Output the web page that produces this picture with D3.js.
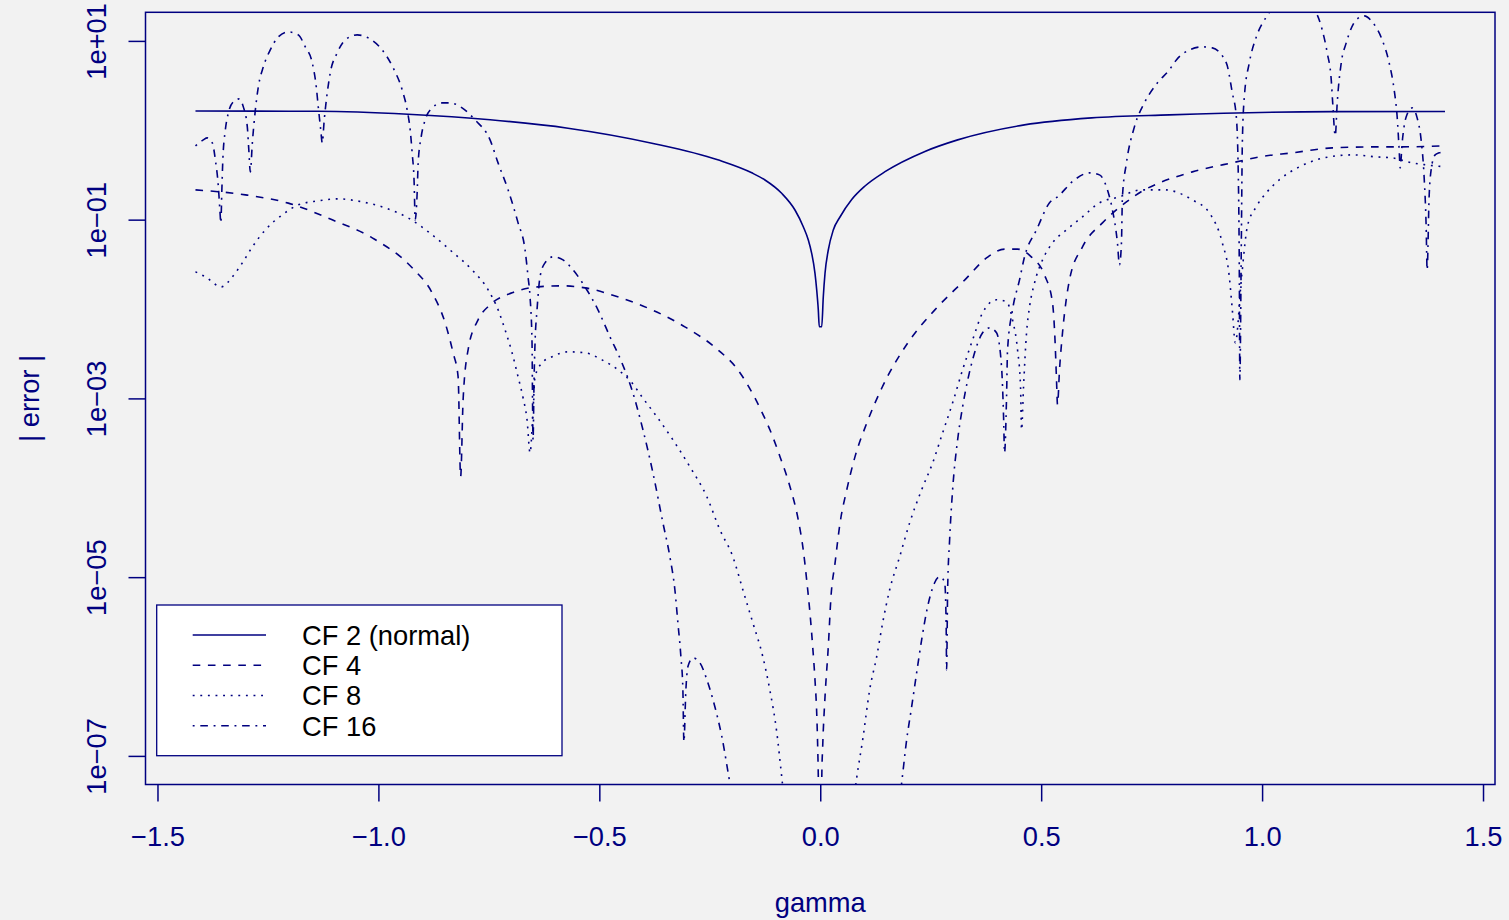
<!DOCTYPE html>
<html><head><meta charset="utf-8">
<script src="https://cdn.jsdelivr.net/npm/d3@7"></script>
<style>body{margin:0;background:#f2f2f2;} svg{display:block}</style>
</head><body>
<svg id="chart" width="1509" height="920"></svg>
<script>
// ---------- data ----------
const xTicks = [-1.5, -1.0, -0.5, 0.0, 0.5, 1.0, 1.5];
const xTickLabels = ["\u22121.5", "\u22121.0", "\u22120.5", "0.0", "0.5", "1.0", "1.5"];
const yTicks = [1e1, 1e-1, 1e-3, 1e-5, 1e-7];
const yTickLabels = ["1e+01", "1e\u221201", "1e\u221203", "1e\u221205", "1e\u221207"];
const legendLabels = ["CF 2 (normal)", "CF 4", "CF 8", "CF 16"];
const xLabel = "gamma";
const yLabel = "| error |";

const gamma2 = [-1.414, -1.136, -0.933, -0.747, -0.571, -0.381, -0.232, -0.155, -0.1251, -0.0873, -0.0572, -0.0384, -0.027, -0.0194, -0.0119, -0.008, -0.0044, -0.0022, 0.0033, 0.0069, 0.0108, 0.0182, 0.0295, 0.0447, 0.0712, 0.1013, 0.1466, 0.237, 0.311, 0.462, 0.614, 0.790, 1.159, 1.414];
const err2 = [1.64, 1.63, 1.51, 1.31, 1.055, 0.717, 0.467, 0.334, 0.2778, 0.1971, 0.1282, 0.0834, 0.0592, 0.04202, 0.0251, 0.01632, 0.00975, 0.00634, 0.00634, 0.01373, 0.0251, 0.04575, 0.0766, 0.1071, 0.168, 0.2379, 0.344, 0.58, 0.781, 1.149, 1.376, 1.487, 1.618, 1.62];

const gamma4 = [-1.414, -1.301, -1.204, -1.1045, -1.014, -0.9236, -0.8784, -0.849, -0.831, -0.8196,
  -0.8139, -0.8083, -0.797, -0.7744, -0.7473, -0.6975, -0.6387, -0.5845, -0.5325, -0.4578,
  -0.381, -0.3064, -0.2317, -0.1865, -0.1481, -0.1325, -0.1137, -0.0911, -0.0685, -0.0497,
  -0.0384, -0.0307, -0.0232, -0.0171, -0.0119, -0.008, -0.0058, -0.0044, 0, 0.0035,
  0.0055, 0.0108, 0.0182, 0.0243, 0.0334, 0.0447, 0.0599, 0.0787, 0.1051, 0.1391,
  0.1978, 0.2589, 0.3267, 0.3787, 0.4171, 0.4465, 0.4782, 0.5076, 0.5256, 0.5313,
  0.5347, 0.537, 0.5415, 0.5483, 0.5641, 0.5935, 0.6387, 0.693, 0.7337, 0.7676,
  0.8422, 0.9417, 0.9937, 1.0683, 1.1587, 1.2582, 1.31, 1.414];
const err4 = [0.2154, 0.1894, 0.153, 0.0995, 0.0626, 0.0289, 0.01518, 0.00701, 0.00324, 0.001744,
  1.33e-4, 9.65e-4, 0.0035, 0.00757, 0.01114, 0.01518, 0.0177, 0.01818, 0.01726, 0.01369,
  0.0098, 0.00632, 0.0035, 0.00209, 0.001016, 7.1e-4, 4.43e-4, 2.23e-4, 1.028e-4, 4.36e-5,
  2.01e-5, 9.29e-6, 3.94e-6, 1.667e-6, 7.07e-7, 3.0e-7, 1.267e-7, 5.85e-8, 1e-10, 5.85e-8,
  1.267e-7, 4.6e-7, 1.667e-6, 6.04e-6, 1.429e-5, 4.0e-5, 9.44e-5, 2.23e-4, 5.26e-4, 0.0013,
  0.004155, 0.00972, 0.02105, 0.0381, 0.0468, 0.0468, 0.0381, 0.024, 0.01178, 0.00452,
  0.00162, 8.52e-4, 0.00209, 0.00542, 0.0212, 0.0496, 0.0921, 0.158, 0.2154, 0.258,
  0.3425, 0.443, 0.504, 0.559, 0.635, 0.652, 0.652, 0.669];

const gamma8 = [-1.414, -1.3916, -1.3554, -1.3305, -1.3079, -1.2853, -1.2559, -1.2175, -1.1813, -1.136,
  -1.0908, -1.0366, -0.9846, -0.9326, -0.8784, -0.833, -0.788, -0.7517, -0.7291, -0.7133,
  -0.6975, -0.6839, -0.6726, -0.6636, -0.6568, -0.65, -0.6455, -0.6297, -0.6071, -0.5709,
  -0.5325, -0.494, -0.4578, -0.4262, -0.4036, -0.3696, -0.3335, -0.2951, -0.2566, -0.2272,
  -0.1978, -0.1752, -0.1526, -0.13, -0.1142, -0.0983, -0.087, 0, 0.0825, 0.0961,
  0.1119, 0.1277, 0.1413, 0.1571, 0.1797, 0.2024, 0.2295, 0.2544, 0.277, 0.2996,
  0.3222, 0.3448, 0.3674, 0.399, 0.4216, 0.4352, 0.4465, 0.4533, 0.4556, 0.4601,
  0.4669, 0.4737, 0.485, 0.5031, 0.5257, 0.5573, 0.5935, 0.6319, 0.6771, 0.7268,
  0.7789, 0.8422, 0.8806, 0.91, 0.9258, 0.9326, 0.9394, 0.9536, 0.9666, 0.9869,
  1.0095, 1.0389, 1.0841, 1.1225, 1.1678, 1.2039, 1.2582, 1.2944, 1.3396, 1.3713, 1.414];
const err8 = [0.02607, 0.02292, 0.0177, 0.02292, 0.03287, 0.0496, 0.0769, 0.1132, 0.1464, 0.1623,
  0.1709, 0.158, 0.1355, 0.1047, 0.0676, 0.0436, 0.02745, 0.0164, 0.0098, 0.00585,
  0.00324, 0.001744, 0.001016, 5.76e-4, 2.46e-4, 7.42e-4, 0.001744, 0.0025, 0.00292, 0.00332,
  0.00324, 0.0027, 0.00209, 0.001494, 0.001042, 6.22e-4, 3.44e-4, 1.72e-4, 7.93e-5, 3.39e-5,
  1.69e-5, 7.23e-6, 3.09e-6, 1.29e-6, 5.5e-7, 1.82e-7, 5.7e-8, 1e-12, 5.7e-8, 1.52e-7,
  5.5e-7, 1.29e-6, 3.09e-6, 7.23e-6, 1.69e-5, 4.06e-5, 9.5e-5, 1.9e-4, 4.12e-4, 8.93e-4,
  0.00209, 0.00452, 0.00907, 0.01268, 0.01204, 0.00757, 0.0035, 0.001348, 4.46e-4, 0.001348,
  0.00542, 0.01058, 0.01964, 0.0355, 0.055, 0.0769, 0.1075, 0.1542, 0.1799, 0.2154,
  0.2154, 0.1665, 0.1192, 0.055, 0.02292, 0.0098, 0.00419, 0.02292, 0.0835, 0.1398,
  0.1995, 0.2788, 0.3897, 0.4667, 0.5172, 0.5307, 0.504, 0.4912, 0.4318, 0.41, 0.3897];

const gamma16 = [-1.414, -1.3962, -1.3872, -1.3759, -1.369, -1.3622, -1.3588, -1.3566, -1.3543, -1.3521,
  -1.3464, -1.3396, -1.3283, -1.3147, -1.3057, -1.2967, -1.2933, -1.2899, -1.2853, -1.2785,
  -1.2718, -1.2605, -1.2447, -1.2266, -1.2039, -1.1813, -1.1655, -1.1497, -1.1406, -1.1361,
  -1.1305, -1.1271, -1.1226, -1.1158, -1.109, -1.0932, -1.0751, -1.048, -1.0231, -0.9915,
  -0.9666, -0.9462, -0.9349, -0.9281, -0.9236, -0.9191, -0.9168, -0.9123, -0.91, -0.9032,
  -0.8942, -0.8784, -0.8558, -0.8377, -0.8106, -0.7812, -0.7473, -0.7292, -0.7065, -0.6839,
  -0.6681, -0.6613, -0.6568, -0.6523, -0.6512, -0.65, -0.6477, -0.6455, -0.641, -0.6342,
  -0.6229, -0.6048, -0.5822, -0.5596, -0.5325, -0.5031, -0.4759, -0.4488, -0.4262, -0.4013,
  -0.3787, -0.3561, -0.3403, -0.329, -0.3222, -0.3154, -0.3109, -0.3086, -0.3041, -0.2996,
  -0.2883, -0.2724, -0.2566, -0.2385, -0.2227, -0.2046, 0, 0.1843, 0.1956, 0.2069,
  0.2182, 0.2295, 0.243, 0.2589, 0.2702, 0.2815, 0.2849, 0.286, 0.2883, 0.2928,
  0.2996, 0.3109, 0.3222, 0.3448, 0.3674, 0.3832, 0.399, 0.4103, 0.4149, 0.4171,
  0.4216, 0.4239, 0.4352, 0.451, 0.4623, 0.4895, 0.5189, 0.537, 0.5754, 0.6093,
  0.6319, 0.65, 0.6613, 0.6726, 0.6771, 0.6817, 0.6839, 0.693, 0.711, 0.7337,
  0.763, 0.7901, 0.806, 0.8354, 0.8648, 0.8874, 0.919, 0.9326, 0.9417, 0.9462,
  0.9485, 0.9496, 0.953, 0.9553, 0.9598, 0.971, 0.9869, 1.0095, 1.0389, 1.0661,
  1.0955, 1.1225, 1.1361, 1.1474, 1.1565, 1.1598, 1.1656, 1.17, 1.1791, 1.1904,
  1.213, 1.2311, 1.2492, 1.2718, 1.2876, 1.2989, 1.3057, 1.3102, 1.3125, 1.317,
  1.326, 1.3396, 1.3509, 1.3599, 1.3667, 1.3713, 1.3735, 1.378, 1.3826, 1.3916,
  1.4006, 1.414];
const err16 = [0.669, 0.781, 0.822, 0.723, 0.4667, 0.2327, 0.1287, 0.0921, 0.2154, 0.4667,
  1.01, 1.565, 2.078, 2.245, 1.827, 1.091, 0.6035, 0.3425, 0.723, 1.691,
  3.058, 5.12, 7.93, 11.08, 12.61, 11.67, 8.57, 5.67, 3.058, 1.827,
  1.01, 0.723, 1.307, 2.62, 4.386, 7.34, 10.26, 11.67, 10.8, 7.93,
  4.99, 2.83, 1.691, 1.01, 0.559, 0.258, 0.0995, 0.1995, 0.4318, 0.844,
  1.307, 1.78, 2.025, 2.025, 1.78, 1.307, 0.781, 0.4318, 0.2154, 0.0921,
  0.0459, 0.02292, 0.01369, 0.00419, 9.65e-4, 3.44e-4, 0.00162, 0.00419, 0.0098, 0.02292,
  0.03287, 0.03836, 0.0355, 0.02745, 0.0177, 0.0098, 0.00489, 0.0025, 0.001248, 4.46e-4,
  1.47e-4, 4.06e-5, 1.69e-5, 7.23e-6, 3.09e-6, 1.29e-6, 5.5e-7, 1.44e-7, 5.5e-7, 9.95e-7,
  1.25e-6, 1.1e-6, 7.12e-7, 3.55e-7, 1.64e-7, 5e-8, 1e-12, 5e-8, 1.52e-7, 3.55e-7,
  8.52e-7, 1.99e-6, 4.67e-6, 8.66e-6, 1.01e-5, 8.88e-6, 3.09e-6, 9.21e-7, 7.23e-6, 2.62e-5,
  9.5e-5, 3.44e-4, 8.05e-4, 0.0027, 0.00542, 0.00616, 0.00542, 0.00226, 6.22e-4, 2.46e-4,
  0.001016, 0.0035, 0.0098, 0.0212, 0.03836, 0.0769, 0.1542, 0.1799, 0.2788, 0.334,
  0.317, 0.2154, 0.1287, 0.055, 0.0312, 0.055, 0.1799, 0.4318, 1.091, 2.025,
  3.39, 4.74, 6.13, 7.93, 8.57, 8.35, 5.67, 2.62, 1.412, 0.301,
  0.02292, 0.00162, 0.055, 0.723, 2.364, 5.67, 11.08, 18.56, 27.3, 31.8,
  27.3, 20.6, 13.27, 7.34, 3.66, 2.025, 0.866, 2.025, 5.67, 9.5,
  17.2, 19.04, 16.32, 10.26, 5.67, 2.83, 1.412, 0.6035, 0.3797, 0.723,
  1.412, 1.78, 1.376, 0.781, 0.301, 0.0835, 0.02745, 0.1799, 0.3606, 0.5307,
  0.559, 0.573];

// ---------- layout ----------
const navy = "#000080";
const fontFamily = "'Liberation Sans', Arial, Helvetica, sans-serif";
const fs = 27.3;
const plot = {left: 145.5, right: 1495, top: 12.3, bottom: 784.5};

const svg = d3.select("#chart");
svg.append("rect").attr("width", 1509).attr("height", 920).attr("fill", "#f2f2f2");

const xr = d3.extent(gamma2);
const xpad = 0.04 * (xr[1] - xr[0]);
const x = d3.scaleLinear().domain([xr[0] - xpad, xr[1] + xpad]).range([plot.left, plot.right]);
const yLim = [1e-7, 1e1];
const ly = [Math.log10(yLim[0]), Math.log10(yLim[1])];
const lpad = 0.04 * (ly[1] - ly[0]);
const y = d3.scaleLog().domain([Math.pow(10, ly[0] - lpad), Math.pow(10, ly[1] + lpad)]).range([plot.bottom, plot.top]);

svg.append("clipPath").attr("id", "clip").append("rect")
  .attr("x", plot.left).attr("y", plot.top)
  .attr("width", plot.right - plot.left).attr("height", plot.bottom - plot.top);

const series = [
  {g: gamma2, e: err2, dash: null},
  {g: gamma4, e: err4, dash: "7.6,7.6"},
  {g: gamma8, e: err8, dash: "1.9,5.7"},
  {g: gamma16, e: err16, dash: "1.9,5.7,7.6,5.7"}
];

const line = d3.line().x(d => x(d[0])).y(d => y(d[1])).curve(d3.curveMonotoneX);
const gLines = svg.append("g").attr("clip-path", "url(#clip)");
series.forEach(s => {
  gLines.append("path")
    .attr("d", line(d3.zip(s.g, s.e)))
    .attr("fill", "none").attr("stroke", navy).attr("stroke-width", 1.6)
    .attr("stroke-dasharray", s.dash);
});

// box
svg.append("rect").attr("x", plot.left).attr("y", plot.top)
  .attr("width", plot.right - plot.left).attr("height", plot.bottom - plot.top)
  .attr("fill", "none").attr("stroke", navy).attr("stroke-width", 1.5);

// x axis
const xAxis = svg.append("g").attr("transform", `translate(0,${plot.bottom})`)
  .call(d3.axisBottom(x).tickValues(xTicks).tickSize(17).tickFormat((d, i) => xTickLabels[i]));
xAxis.select(".domain").remove();
xAxis.selectAll("line").attr("stroke", navy).attr("stroke-width", 1.5);
xAxis.selectAll("text").attr("fill", navy).attr("font-size", fs).attr("font-family", fontFamily)
  .attr("y", 61.5).attr("dy", null);

// y axis
const yAxis = svg.append("g").attr("transform", `translate(${plot.left},0)`)
  .call(d3.axisLeft(y).tickValues(yTicks).tickSize(17).tickFormat((d, i) => yTickLabels[i]));
yAxis.select(".domain").remove();
yAxis.selectAll("line").attr("stroke", navy).attr("stroke-width", 1.5);
yAxis.selectAll("text").attr("fill", navy).attr("font-size", fs).attr("font-family", fontFamily)
  .attr("x", null).attr("dy", null).attr("text-anchor", "middle")
  .attr("transform", "translate(-39.5,0) rotate(-90)");

// axis titles
svg.append("text").attr("x", (plot.left + plot.right) / 2).attr("y", 912)
  .attr("text-anchor", "middle").attr("fill", navy).attr("font-size", fs).attr("font-family", fontFamily)
  .text(xLabel);
svg.append("text").attr("transform", `translate(39,${(plot.top + plot.bottom) / 2}) rotate(-90)`)
  .attr("text-anchor", "middle").attr("fill", navy).attr("font-size", fs).attr("font-family", fontFamily)
  .text(yLabel);

// legend
const lg = svg.append("g");
lg.append("rect").attr("x", 156.7).attr("y", 605).attr("width", 405.3).attr("height", 150.7)
  .attr("fill", "#ffffff").attr("stroke", navy).attr("stroke-width", 1.3);
const rowY = d3.scaleLinear().domain([0, 3]).range([635, 725.7]);
legendLabels.forEach((lab, i) => {
  lg.append("line").attr("x1", 192.7).attr("x2", 266).attr("y1", rowY(i)).attr("y2", rowY(i))
    .attr("stroke", navy).attr("stroke-width", 1.6).attr("stroke-dasharray", series[i].dash);
  lg.append("text").attr("x", 302).attr("y", rowY(i) + 9.8)
    .attr("fill", "#000").attr("font-size", fs).attr("font-family", fontFamily).text(lab);
});
</script>
</body></html>
